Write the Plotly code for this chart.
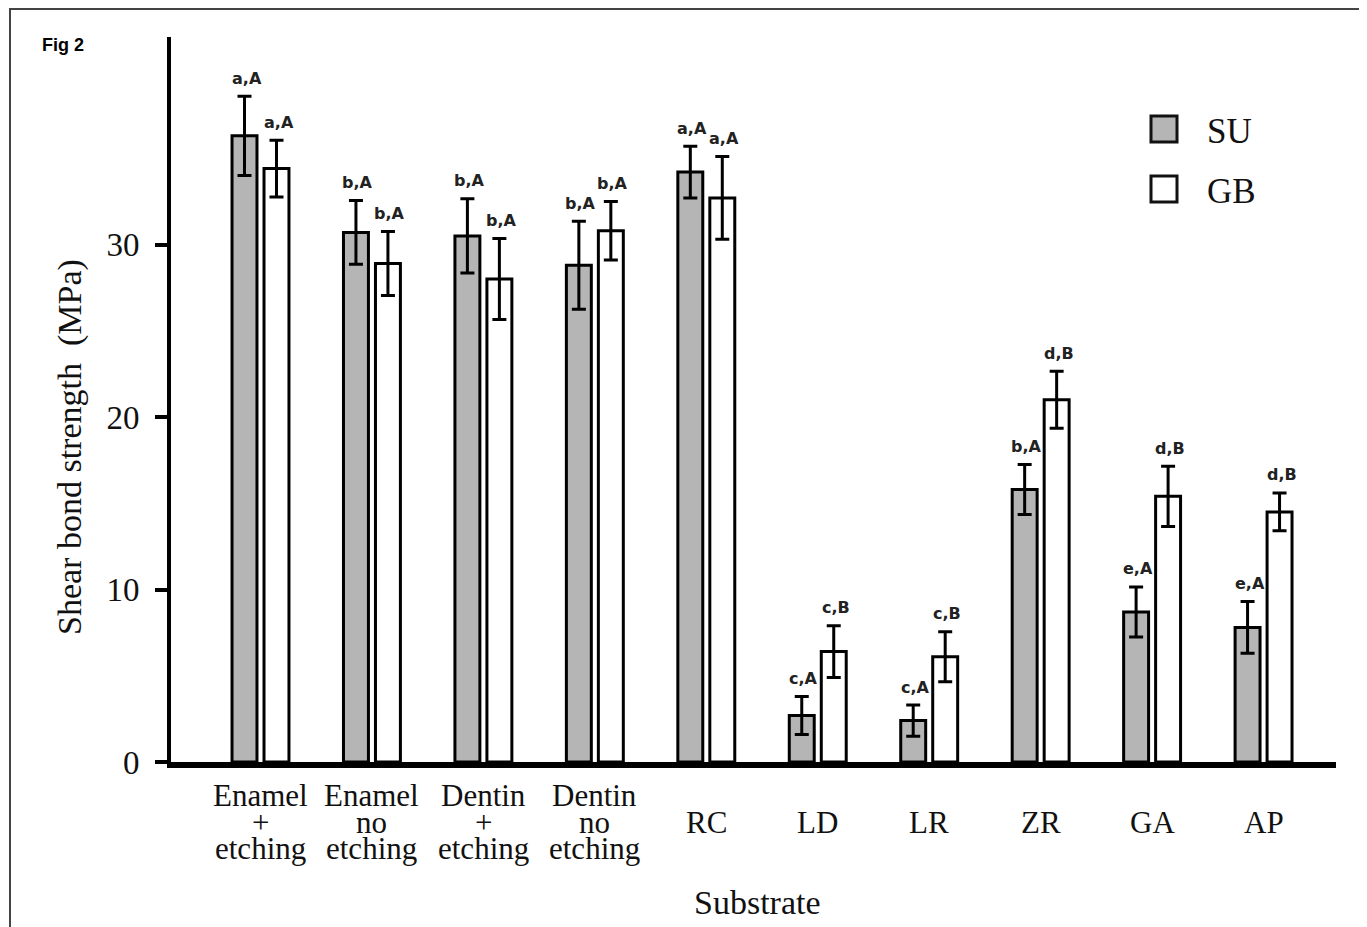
import plotly.graph_objects as go

# ---- data ----
categories = ["Enamel + etching", "Enamel no etching", "Dentin + etching", "Dentin no etching",
              "RC", "LD", "LR", "ZR", "GA", "AP"]
tick_lines = [["Enamel", "+", "etching"], ["Enamel", "no", "etching"], ["Dentin", "+", "etching"],
              ["Dentin", "no", "etching"], ["RC"], ["LD"], ["LR"], ["ZR"], ["GA"], ["AP"]]
su_values = [36.3, 30.7, 30.5, 28.8, 34.2, 2.7, 2.4, 15.8, 8.7, 7.8]
su_errors = [2.3, 1.85, 2.15, 2.55, 1.5, 1.1, 0.9, 1.45, 1.45, 1.5]
gb_values = [34.4, 28.9, 28.0, 30.8, 32.7, 6.4, 6.1, 21.0, 15.4, 14.5]
gb_errors = [1.65, 1.85, 2.35, 1.7, 2.4, 1.5, 1.45, 1.65, 1.75, 1.1]
su_sig = ["a,A", "b,A", "b,A", "b,A", "a,A", "c,A", "c,A", "b,A", "e,A", "e,A"]
gb_sig = ["a,A", "b,A", "b,A", "b,A", "a,A", "c,B", "c,B", "d,B", "d,B", "d,B"]
y_ticks = [0, 10, 20, 30]
series_names = ["SU", "GB"]

SERIF = "Liberation Serif, Times New Roman, serif"
GRAY = "#b5b5b5"

W, H = 1367, 927
OFF = 8  # page body margin
L, R, T, B = 163, 39, 29, 173
PW, PH = W - L - R, H - T - B


def px_x(p):
    return (p - OFF - L) / PW


def px_y(p):
    return (H - B - (p - OFF)) / PH


fig = go.Figure()
fig.add_trace(go.Bar(
    x=categories, y=su_values, name=series_names[0],
    marker=dict(color=GRAY, line=dict(color="black", width=3)),
    error_y=dict(type="data", array=su_errors, visible=True, color="black", thickness=3, width=7),
))
fig.add_trace(go.Bar(
    x=categories, y=gb_values, name=series_names[1],
    marker=dict(color="white", line=dict(color="black", width=3)),
    error_y=dict(type="data", array=gb_errors, visible=True, color="black", thickness=3, width=7),
))

annotations = []
sig_font = dict(family="DejaVu Sans", size=16, color="#222", weight="bold")
for cat, v, e, s in zip(categories, su_values, su_errors, su_sig):
    annotations.append(dict(x=cat, y=v + e, xref="x", yref="y", text=s, showarrow=False,
                            xshift=-14, yshift=18, xanchor="center", yanchor="middle", font=sig_font))
for cat, v, e, s in zip(categories, gb_values, gb_errors, gb_sig):
    annotations.append(dict(x=cat, y=v + e, xref="x", yref="y", text=s, showarrow=False,
                            xshift=18, yshift=18, xanchor="center", yanchor="middle", font=sig_font))

# multi-line category labels (tight leading as in the reference)
for cat, lines in zip(categories, tick_lines):
    n = len(lines)
    for i, ln in enumerate(lines):
        center_px = 822 + (i - (n - 1) / 2) * 26.5
        annotations.append(dict(x=cat, xref="x", y=0, yref="paper", text=ln, showarrow=False,
                                xanchor="center", yanchor="middle",
                                yshift=(H - B) - (center_px - OFF),
                                font=dict(family=SERIF, size=31, color="#111")))

# axis titles
annotations.append(dict(x=px_x(70), y=px_y(447), xref="paper", yref="paper",
                        xanchor="center", yanchor="middle",
                        text="Shear bond strength  (MPa)", textangle=-90, showarrow=False,
                        font=dict(family=SERIF, size=34, color="#111")))
annotations.append(dict(x=px_x(758), y=px_y(902), xref="paper", yref="paper",
                        xanchor="center", yanchor="middle",
                        text="Substrate", showarrow=False,
                        font=dict(family=SERIF, size=34, color="#111")))
annotations.append(dict(x=px_x(40), y=px_y(45), xref="paper", yref="paper",
                        xanchor="left", yanchor="middle",
                        text="Fig 2", showarrow=False,
                        font=dict(family="Liberation Sans, Arial", size=18, color="black", weight="bold")))

# legend (drawn)
shapes = []
legend_rows = [(series_names[0], GRAY, 129), (series_names[1], "white", 189)]
for name, col, cy in legend_rows:
    shapes.append(dict(type="rect", xref="paper", yref="paper",
                       x0=px_x(1151), x1=px_x(1177), y0=px_y(cy + 13), y1=px_y(cy - 13),
                       line=dict(color="#111", width=3), fillcolor=col))
    annotations.append(dict(x=px_x(1205), y=px_y(cy + 2), xref="paper", yref="paper",
                            xanchor="left", yanchor="middle",
                            text=name, showarrow=False,
                            font=dict(family=SERIF, size=35, color="#111")))

# outer frame
shapes.append(dict(type="rect", xref="paper", yref="paper",
                   x0=px_x(10), x1=px_x(1420), y0=px_y(990), y1=px_y(9),
                   line=dict(color="#444", width=2), fillcolor="rgba(0,0,0,0)", layer="below"))

fig.update_layout(
    width=W, height=H,
    margin=dict(l=L, r=R, t=T, b=B),
    paper_bgcolor="white", plot_bgcolor="white",
    barmode="group", bargap=0.426, bargroupgap=0.22,
    showlegend=False,
    annotations=annotations, shapes=shapes,
    xaxis=dict(range=[-0.803, 9.65], showline=True, linewidth=6, linecolor="black",
               showticklabels=False, ticks="", showgrid=False, zeroline=False, fixedrange=True),
    yaxis=dict(range=[0, 42.03], showline=True, linewidth=4, linecolor="black",
               ticks="outside", ticklen=12, tickwidth=4, tickcolor="black",
               tickvals=y_ticks, ticktext=[str(t) for t in y_ticks], ticklabelstandoff=9,
               tickfont=dict(family=SERIF, size=33, color="#111"),
               showgrid=False, zeroline=False),
)

fig.write_html("out.html")
